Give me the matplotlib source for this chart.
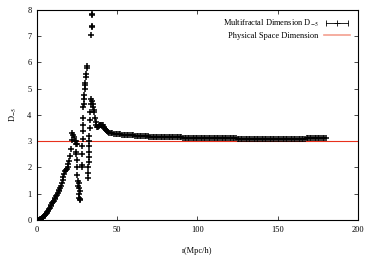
import numpy as np
from matplotlib import pyplot as plt
from matplotlib.lines import Line2D
from matplotlib.legend_handler import HandlerTuple, HandlerLine2D

# smooth rise at small scales
r_rise = [1.0, 1.5, 2.0, 2.5, 3.0, 3.5, 4.0, 4.5, 5.0, 5.5, 6.0, 6.5, 7.0, 7.5,
          8.0, 8.5, 9.0, 9.5, 10.0, 10.5, 11.0, 11.5, 12.0, 12.5, 13.0, 13.5,
          14.0, 14.5, 15.0, 15.5, 16.0, 16.5, 17.0, 17.5, 18.0, 18.5, 19.0,
          19.5, 20.0, 20.5, 21.0, 21.5, 22.0]
d_rise = [0.0, 0.0, 0.02, 0.04, 0.06, 0.09, 0.12, 0.15, 0.19, 0.23, 0.27, 0.31,
          0.36, 0.41, 0.46, 0.52, 0.57, 0.63, 0.68, 0.73, 0.79, 0.85, 0.91,
          0.97, 1.03, 1.09, 1.15, 1.22, 1.30, 1.40, 1.52, 1.65, 1.76, 1.85,
          1.90, 1.95, 2.02, 2.12, 2.25, 2.45, 2.70, 3.05, 3.30]

# noisy region around the peak
r_peak = [22.5, 23.0, 23.5, 24.0, 24.3, 24.5, 24.8, 25.0, 25.2, 25.5, 25.7, 26.0,
          26.2, 26.4, 26.6, 26.8, 26.5, 26.0, 25.0, 24.5,
          28.0, 28.0, 28.2, 28.2, 28.4, 28.5, 28.6, 28.8, 28.9, 29.0, 29.3, 29.5,
          29.7, 29.9, 30.2, 30.5, 30.8, 31.1, 31.3,
          31.8, 31.9, 32.0, 32.1, 32.2, 32.3, 32.4, 32.5, 32.6, 32.8, 33.0, 33.2,
          33.5, 33.8,
          33.8, 34.0, 34.2, 34.3, 34.5,
          34.5, 34.8, 35.0, 35.3, 35.6, 36.0, 36.5, 37.0, 37.5, 38.0, 38.5, 39.0,
          39.5, 40.0, 40.5, 41.0, 41.5, 42.0, 42.5, 43.0, 43.5, 44.0, 45.0, 46.0,
          47.0, 48.0, 49.0]
d_peak = [3.25, 3.15, 3.0, 2.9, 2.6, 2.5, 2.3, 2.0, 1.7, 1.5, 1.3, 1.2,
          1.0, 0.85, 0.75, 0.8, 1.1, 1.4, 2.9, 3.0,
          2.0, 2.1, 2.5, 2.8, 3.1, 3.4, 3.6, 3.9, 4.3, 4.4, 4.6, 4.75,
          5.0, 5.15, 5.2, 5.45, 5.55, 5.8, 5.85,
          1.6, 1.8, 2.0, 2.2, 2.4, 2.6, 2.8, 3.0, 3.2, 3.5, 3.8, 4.1,
          4.4, 4.6,
          7.05, 7.35, 7.4, 7.8, 7.85,
          4.55, 4.4, 4.3, 4.2, 4.1, 3.9, 3.75, 3.6, 3.55, 3.55, 3.57, 3.6,
          3.61, 3.62, 3.61, 3.6, 3.56, 3.52, 3.47, 3.42, 3.39, 3.36, 3.33, 3.31,
          3.3, 3.29, 3.28]

# slow approach to 3 at large scales, one value per Mpc/h from 50 to 180
r_tail = np.arange(50, 181, 1)
d_tail = [3.27, 3.265, 3.26, 3.255, 3.25, 3.245, 3.24, 3.235, 3.23, 3.225,
          3.22, 3.215, 3.21, 3.205, 3.20, 3.195, 3.19, 3.19, 3.185, 3.185,
          3.18, 3.18, 3.175, 3.175, 3.17, 3.17, 3.17, 3.165, 3.165, 3.16,
          3.16, 3.16, 3.16, 3.155, 3.155, 3.15, 3.15, 3.15, 3.15, 3.145,
          3.145, 3.14, 3.14, 3.14, 3.14, 3.14, 3.135, 3.135, 3.135, 3.13,
          3.13, 3.13, 3.13, 3.13, 3.125, 3.125, 3.12, 3.12, 3.12, 3.12,
          3.12, 3.12, 3.12, 3.115, 3.115, 3.11, 3.11, 3.11, 3.11, 3.11,
          3.11, 3.11, 3.105, 3.105, 3.105, 3.10, 3.10, 3.10, 3.10, 3.10,
          3.10, 3.10, 3.095, 3.095, 3.095, 3.09, 3.09, 3.09, 3.09, 3.09,
          3.09, 3.09, 3.085, 3.085, 3.085, 3.08, 3.08, 3.08, 3.08, 3.08,
          3.08, 3.08, 3.08, 3.08, 3.085, 3.085, 3.085, 3.09, 3.09, 3.09,
          3.09, 3.09, 3.095, 3.095, 3.095, 3.10, 3.10, 3.10, 3.105, 3.105,
          3.105, 3.11, 3.11, 3.11, 3.115, 3.115, 3.12, 3.12, 3.12, 3.12,
          3.125]

space_dim = 3

plt.rcParams['font.family'] = ['Liberation Serif', 'DejaVu Serif']
plt.rcParams['mathtext.fontset'] = 'stix'
plt.rcParams['font.size'] = 6

fig = plt.figure(figsize=(3.74, 2.63), dpi=100)
ax = fig.add_axes([0.099, 0.1635, 0.858, 0.7985])

r_all = np.concatenate([r_rise, r_peak, r_tail])
d_all = np.concatenate([d_rise, d_peak, d_tail])
ax.axhline(space_dim, color='#e8301c', lw=0.8)
ax.plot(r_all, d_all, ls='none', marker='+', color='black', ms=4.5, mew=1.1)

ax.set_xlim(0, 200)
ax.set_ylim(0, 8)
ax.set_xticks([0, 50, 100, 150, 200])
ax.set_yticks(range(0, 9))
ax.tick_params(direction='in', length=3, width=0.5, top=True, right=True, pad=4)
for s in ax.spines.values():
    s.set_linewidth(0.8)
ax.set_xlabel('r(Mpc/h)', labelpad=10)
ax.set_ylabel('D$_{-5}$', labelpad=6)

caps = Line2D([], [], color='black', lw=0.6, marker='|', ms=4, mew=0.6)
plus = Line2D([], [], color='black', ls='none', marker='+', ms=4, mew=0.6)
red = Line2D([], [], color='#f4a090', lw=1.2)
ax.legend([(caps, plus), red],
          ['Multifractal Dimension D$_{-5}$', 'Physical Space Dimension'],
          loc='upper right', markerfirst=False, frameon=False,
          handlelength=3.2, handletextpad=0.6, labelspacing=0.35,
          borderaxespad=0.5, fontsize=6,
          handler_map={tuple: HandlerTuple(ndivide=1),
                       caps: HandlerLine2D(numpoints=2)})

fig.savefig('out.png', dpi=100)
